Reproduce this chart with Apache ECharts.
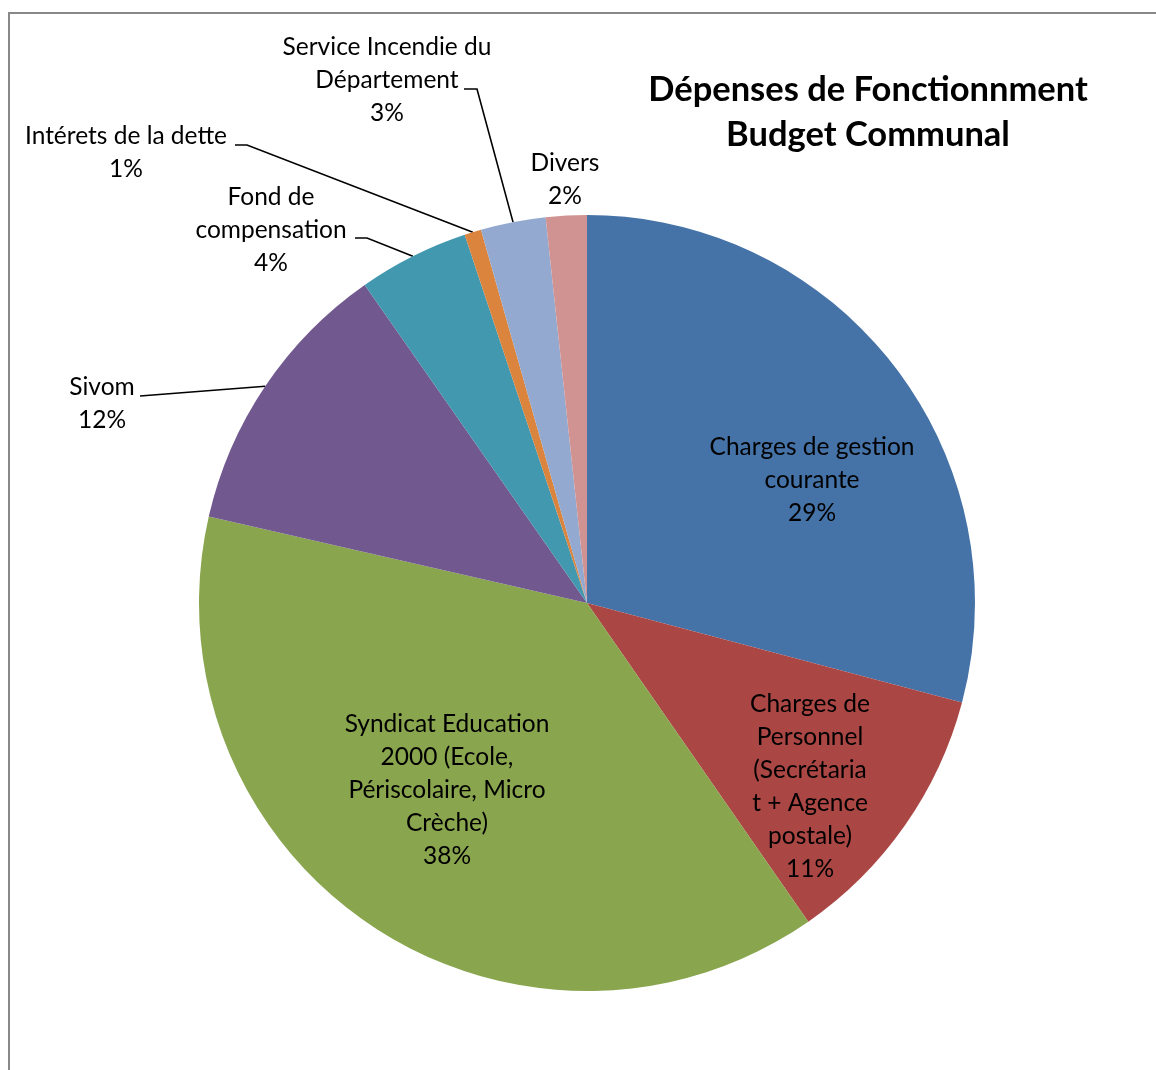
<!DOCTYPE html>
<html>
<head>
<meta charset="utf-8">
<script src="https://cdn.jsdelivr.net/npm/echarts@6/dist/echarts.min.js"></script>
<style>
html,body{margin:0;padding:0;background:#fff;}
#chart{width:1156px;height:1070px;}
</style>
</head>
<body>
<div id="chart"></div>
<script>
// ---- Data ----
const categories = [
  'Charges de gestion courante',
  'Charges de Personnel (Secrétariat + Agence postale)',
  'Syndicat Education 2000 (Ecole, Périscolaire, Micro Crèche)',
  'Sivom',
  'Fond de compensation',
  'Intérets de la dette',
  'Service Incendie du Département',
  'Divers'
];
const values = [29.1, 11.2, 38.2, 11.7, 4.6, 0.7, 2.7, 1.7];
const labelText = [
  'Charges de gestion\ncourante',
  'Charges de\nPersonnel\n(Secrétaria\nt + Agence\npostale)',
  'Syndicat Education\n2000 (Ecole,\nPériscolaire, Micro\nCrèche)',
  'Sivom',
  'Fond de\ncompensation',
  'Intérets de la dette',
  'Service Incendie du\nDépartement',
  'Divers'
];
const titleLines = ['Dépenses de Fonctionnment', 'Budget Communal'];

// ---- Styles ----
const colors = ['#4572A7', '#AA4643', '#89A54E', '#71588F', '#4198AF', '#DB843D', '#93A9CF', '#D19392'];
const insideIdx = [0, 1, 2];
const labelPlace = [
  {x: 812, y: 480},
  {x: 810, y: 787},
  {x: 447, y: 790},
  {x: 102, y: 404, line: [[140, 396], [140, 396]]},
  {x: 271, y: 230, line: [[367, 238], [355, 238]]},
  {x: 126, y: 153, line: [[247, 145], [235, 145]]},
  {x: 387, y: 80, line: [[477, 89], [464, 89]]},
  {x: 565, y: 180}
];
const FONT = 'Lato, "Open Sans", sans-serif';

const chart = echarts.init(document.getElementById('chart'), null, {renderer: 'canvas'});

const data = categories.map((name, i) => {
  const inside = insideIdx.indexOf(i) >= 0;
  return {
    name: name,
    value: values[i],
    itemStyle: {color: colors[i]},
    label: {position: inside ? 'inside' : 'outside'},
    labelLine: {show: !inside && !!labelPlace[i].line}
  };
});

chart.setOption({
  animation: false,
  backgroundColor: '#fff',
  graphic: [
    {
      type: 'rect',
      shape: {x: 9, y: 13, width: 1300, height: 1200},
      style: {fill: 'none', stroke: '#888888', lineWidth: 2},
      silent: true
    },
    {
      type: 'text',
      x: 868, y: 112,
      style: {
        text: titleLines.join('\n'),
        fontFamily: FONT, fontWeight: 'bold', fontSize: 34.5, lineHeight: 45,
        fill: '#000', align: 'center', verticalAlign: 'middle'
      }
    }
  ],
  series: [{
    type: 'pie',
    center: [587, 603],
    radius: [0, 388],
    startAngle: 90,
    clockwise: true,
    avoidLabelOverlap: false,
    percentPrecision: 0,
    itemStyle: {borderWidth: 0},
    label: {
      show: true,
      color: '#000',
      fontFamily: FONT,
      fontSize: 24.5,
      lineHeight: 33,
      align: 'center',
      formatter: p => labelText[p.dataIndex] + '\n' + p.percent + '%'
    },
    labelLine: {
      lineStyle: {color: '#000', width: 1.6},
      length: 20, length2: 10, smooth: false
    },
    labelLayout: function (p) {
      const c = labelPlace[p.dataIndex];
      const r = {x: c.x, y: c.y, align: 'center', verticalAlign: 'middle'};
      if (c.line && p.labelLinePoints) {
        r.labelLinePoints = [p.labelLinePoints[0], c.line[0], c.line[1]];
      }
      return r;
    },
    emphasis: {disabled: true},
    data: data
  }]
});
</script>
</body>
</html>
